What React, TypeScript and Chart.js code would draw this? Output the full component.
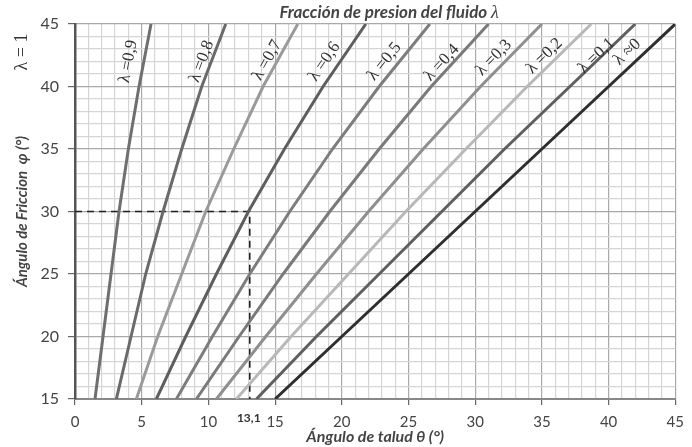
import React, { useEffect, useRef } from 'react';
import { Chart, registerables } from 'chart.js';

Chart.register(...registerables);

// Friction angle φ (y values, degrees)
const phiValues = [15, 20, 25, 30, 35, 40, 45];

// Slope angle θ (x values, degrees) read for each fluid pressure fraction λ
const thetaL09 = [1.5, 2.1, 2.7, 3.3, 4.0, 4.8, 5.7];
const thetaL08 = [3.1, 4.2, 5.3, 6.6, 8.0, 9.5, 11.3];
const thetaL07 = [4.6, 6.2, 8.0, 9.8, 11.9, 14.1, 16.7];
const thetaL06 = [6.1, 8.3, 10.6, 13.0, 15.7, 18.6, 21.8];
const thetaL05 = [7.6, 10.3, 13.1, 16.1, 19.3, 22.8, 26.6];
const thetaL04 = [9.1, 12.3, 15.6, 19.1, 22.8, 26.7, 31.0];
const thetaL03 = [10.6, 14.3, 18.1, 22.0, 26.1, 30.4, 35.0];
const thetaL02 = [12.1, 16.2, 20.5, 24.8, 29.3, 33.9, 38.7];
const thetaL01 = [13.6, 18.1, 22.8, 27.5, 32.2, 37.1, 42.0];
const thetaL00 = [15, 20, 25, 30, 35, 40, 45];

const seriesTheta = [thetaL09, thetaL08, thetaL07, thetaL06, thetaL05, thetaL04, thetaL03, thetaL02, thetaL01, thetaL00];
const seriesLabels = ['λ =0,9', 'λ =0,8', 'λ =0,7', 'λ =0,6', 'λ =0,5', 'λ =0,4', 'λ =0,3', 'λ =0,2', 'λ =0,1', 'λ ≈0'];
const seriesColors = ['#6f6f6f', '#6a6a6a', '#9a9a9a', '#5e5e5e', '#7d7d7d', '#7a7a7a', '#8f8f8f', '#b8b8b8', '#5f5f5f', '#2f2f2f'];

// Where each λ label sits (data coordinates: θ, φ)
const labelTheta = [4.0, 9.5, 14.4, 18.7, 23.2, 27.5, 31.4, 35.2, 39.1, 41.4];
const labelPhi = [42.0, 42.0, 42.1, 42.0, 42.0, 41.9, 42.3, 42.45, 42.45, 42.75];

// Reading example
const refTheta = 13.1;
const refPhi = 30;
const refThetaLabel = '13,1';

const xTickStep = 5;
const yTickStep = 5;

const SANS = 'Lato, "Open Sans", sans-serif';
const SERIF = '"Liberation Serif", "DejaVu Serif", serif';

const overlayPlugin = {
  id: 'overlay',
  afterDatasetsDraw(chart: any) {
    const { ctx, scales } = chart;
    const xs = scales.x;
    const ys = scales.y;
    ctx.save();
    ctx.fillStyle = '#333';
    ctx.font = `17px ${SERIF}`;
    ctx.textAlign = 'center';
    ctx.textBaseline = 'middle';
    seriesTheta.forEach((arr, i) => {
      const n = arr.length;
      const x1 = xs.getPixelForValue(arr[n - 2]);
      const y1 = ys.getPixelForValue(phiValues[n - 2]);
      const x2 = xs.getPixelForValue(arr[n - 1]);
      const y2 = ys.getPixelForValue(phiValues[n - 1]);
      const ang = Math.atan2(y2 - y1, x2 - x1);
      const px = xs.getPixelForValue(labelTheta[i]);
      const py = ys.getPixelForValue(labelPhi[i]);
      ctx.save();
      ctx.translate(px, py);
      ctx.rotate(ang);
      ctx.fillText(seriesLabels[i], 0, 0);
      ctx.restore();
    });
    ctx.restore();
  },
  afterDraw(chart: any) {
    const { ctx, scales, chartArea } = chart;
    const xs = scales.x;
    ctx.save();
    // Title
    const t1 = 'Fracción de presion del fluido ';
    const t2 = 'λ';
    const f1 = `italic bold 17px ${SANS}`;
    const f2 = `italic 18px ${SERIF}`;
    ctx.font = f1;
    const w1 = ctx.measureText(t1).width;
    ctx.font = f2;
    const w2 = ctx.measureText(t2).width;
    const cx = (chartArea.left + chartArea.right) / 2 + 14;
    const sx = cx - (w1 + w2) / 2;
    ctx.textBaseline = 'alphabetic';
    ctx.textAlign = 'left';
    ctx.fillStyle = '#444';
    ctx.font = f1;
    ctx.fillText(t1, sx, chartArea.top - 6);
    ctx.font = f2;
    ctx.fillText(t2, sx + w1, chartArea.top - 6);

    // λ = 1 label at left
    ctx.save();
    ctx.translate(22, chartArea.top + 28);
    ctx.rotate(-Math.PI / 2);
    ctx.font = `18px ${SERIF}`;
    ctx.fillStyle = '#333';
    ctx.textAlign = 'center';
    ctx.textBaseline = 'middle';
    ctx.fillText('λ = 1', 0, 0);
    ctx.restore();

    // 13,1 label
    ctx.font = `bold 12px ${SANS}`;
    ctx.fillStyle = '#333';
    ctx.textAlign = 'center';
    ctx.textBaseline = 'middle';
    ctx.fillText(refThetaLabel, xs.getPixelForValue(refTheta) - 1, chartArea.bottom + 19);
    ctx.restore();
  },
};

export default function App() {
  const canvasRef = useRef<HTMLCanvasElement | null>(null);

  useEffect(() => {
    document.body.style.margin = '0';
    const canvas = canvasRef.current;
    if (!canvas) return;

    const datasets: any[] = seriesTheta.map((arr, i) => ({
      label: seriesLabels[i],
      data: arr.map((t, k) => ({ x: t, y: phiValues[k] })),
      borderColor: seriesColors[i],
      backgroundColor: seriesColors[i],
      borderWidth: 3,
      pointRadius: 0,
      tension: 0,
      fill: false,
    }));
    datasets.push({
      label: 'ref',
      data: [
        { x: 0, y: refPhi },
        { x: refTheta, y: refPhi },
        { x: refTheta, y: 15 },
      ],
      borderColor: '#222',
      borderWidth: 1.6,
      borderDash: [7, 5],
      pointRadius: 0,
      tension: 0,
      fill: false,
    });

    const gridColor = (ctx: any, step: number) => {
      const v = ctx.tick ? ctx.tick.value : 0;
      return Math.abs(v % step) < 1e-6 ? '#a9a9a9' : '#d5d5d5';
    };
    const tickColor = (ctx: any, step: number) => {
      const v = ctx.tick ? ctx.tick.value : 0;
      return Math.abs(v % step) < 1e-6 ? '#666' : 'rgba(0,0,0,0)';
    };

    const chart = new Chart(canvas, {
      type: 'line',
      data: { datasets },
      plugins: [overlayPlugin],
      options: {
        responsive: false,
        animation: false,
        layout: { padding: { top: 24, right: 12, left: 0, bottom: 0 } },
        plugins: {
          legend: { display: false },
          tooltip: { enabled: false },
          title: { display: false },
        },
        scales: {
          x: {
            type: 'linear',
            min: 0,
            max: 45,
            afterFit: (s: any) => {
              s.height = 48;
            },
            border: { color: '#888', width: 2 },
            grid: {
              color: (c: any) => gridColor(c, xTickStep),
              lineWidth: 1.2,
              tickColor: (c: any) => tickColor(c, xTickStep),
              tickLength: 6,
            },
            ticks: {
              stepSize: 1,
              autoSkip: false,
              maxRotation: 0,
              padding: 8,
              color: '#444',
              font: { family: SANS, size: 15 },
              callback: (v: any) => (Math.abs(Number(v) % xTickStep) < 1e-6 ? String(v) : ''),
            },
            title: {
              display: true,
              text: 'Ángulo de talud θ (°)',
              color: '#444',
              font: { family: SANS, size: 16, style: 'italic', weight: 'bold' },
              padding: { top: 0, bottom: 1 },
            },
          },
          y: {
            type: 'linear',
            min: 15,
            max: 45,
            afterFit: (s: any) => {
              s.width = 75;
            },
            border: { color: '#555', width: 2.5 },
            grid: {
              color: (c: any) => gridColor(c, yTickStep),
              lineWidth: 1.2,
              tickColor: (c: any) => tickColor(c, yTickStep),
              tickLength: 7,
            },
            ticks: {
              stepSize: 1,
              autoSkip: false,
              padding: 9,
              color: '#444',
              font: { family: SANS, size: 16 },
              callback: (v: any) => (Math.abs(Number(v) % yTickStep) < 1e-6 ? String(v) : ''),
            },
            title: {
              display: true,
              text: 'Ángulo de Friccion  φ (°)',
              color: '#444',
              font: { family: SANS, size: 15, style: 'italic', weight: 'bold' },
              padding: { top: 13, bottom: 0 },
            },
          },
        },
      },
    });

    return () => {
      chart.destroy();
    };
  }, []);

  return (
    <div style={{ width: 692, height: 447, background: '#fff' }}>
      <canvas ref={canvasRef} width={692} height={447} style={{ display: 'block' }} />
    </div>
  );
}
